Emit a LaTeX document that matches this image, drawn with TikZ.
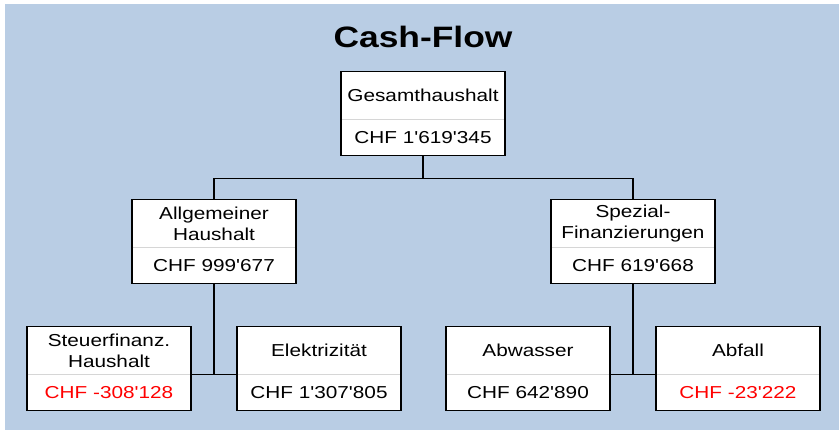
\documentclass[tikz,border=0pt]{standalone}
\usepackage{fontspec}
\newfontfamily\chartfont[FakeStretch=1.2,Ligatures=TeXOff]{Liberation Sans}
\usetikzlibrary{%
    positioning
}
\definecolor{chartbg}{RGB}{185,205,228}
\definecolor{splitgray}{RGB}{214,214,214}
\definecolor{lossred}{RGB}{255,0,0}
\tikzset{
    fundbox/.style  = {draw, line width=1.6pt, fill=white, outer sep=0pt,
                       minimum width=164pt, minimum height=84pt, inner sep=0pt},
    fundname/.style = {font=\chartfont\fontsize{17.3}{20.8}\selectfont,
                       align=center, inner sep=0pt},
    fundsum/.style  = {font=\chartfont\fontsize{17.3}{20.8}\selectfont, inner sep=0pt},
    splitline/.style = {draw=splitgray, line width=1.2pt,
                        shorten <=0.8pt, shorten >=0.8pt},
    link/.style     = {line width=1.5pt},
    charttitle/.style = {font=\chartfont\bfseries\fontsize{29.5}{34}\selectfont,
                         inner sep=0pt}
}
% divider, name and amount of one box
\newcommand{\fundparts}[4]{%
    \draw[splitline] ([yshift=-48pt]#1.north west) -- ([yshift=-48pt]#1.north east);
    \node[fundname] (#1-name) at ([yshift=-24pt]#1.north) {#2};
    \node[fundsum, text=#4] (#1-sum) at ([yshift=18pt]#1.south) {#3};
}

\begin{document}
\begin{tikzpicture}[x=1pt,y=1pt]
    \useasboundingbox (0,0) rectangle (839,430);
    \fill[chartbg] (5,0) rectangle (839,426);

    \node[charttitle, anchor=base] (title) at (423,382) {Cash-Flow};

    \node[fundbox] (gesamt) at (423,316.5) {};
    \node[fundbox] (allg) [below left=44pt and 45pt of gesamt] {};
    \node[fundbox] (spez) [below right=44pt and 46pt of gesamt] {};

    \node[fundbox] (steuer) [below left=43pt and 23pt of allg.south] {};
    \node[fundbox] (elektr) [below right=43pt and 23pt of allg.south] {};
    \node[fundbox] (abwasser) [below left=43pt and 23pt of spez.south] {};
    \node[fundbox] (abfall) [below right=43pt and 23pt of spez.south] {};

    \fundparts{gesamt}{Gesamthaushalt}{CHF 1'619'345}{black}
    \fundparts{allg}{Allgemeiner\\Haushalt}{CHF 999'677}{black}
    \fundparts{spez}{Spezial-\\Finanzierungen}{CHF 619'668}{black}
    \fundparts{steuer}{Steuerfinanz.\\Haushalt}{CHF -308'128}{lossred}
    \fundparts{elektr}{Elektrizität}{CHF 1'307'805}{black}
    \fundparts{abwasser}{Abwasser}{CHF 642'890}{black}
    \fundparts{abfall}{Abfall}{CHF -23'222}{lossred}

    % connectors
    \coordinate (topbar) at ([yshift=-23pt]gesamt.south);
    \coordinate (allgjoin) at ([yshift=-91pt]allg.south);
    \coordinate (spezjoin) at ([yshift=-91pt]spez.south);

    \draw[link] (gesamt.south) -- (topbar);
    \draw[link] (allg.north) |- (topbar) -| (spez.north);
    \draw[link] (allg.south) -- (allgjoin);
    \draw[link] (spez.south) -- (spezjoin);
    \draw[link] (steuer.east |- allgjoin) -- (elektr.west |- allgjoin);
    \draw[link] (abwasser.east |- spezjoin) -- (abfall.west |- spezjoin);
\end{tikzpicture}
\end{document}
